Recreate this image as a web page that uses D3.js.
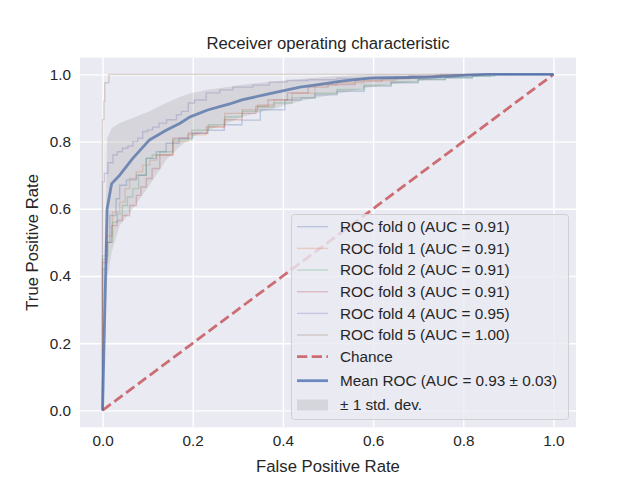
<!DOCTYPE html>
<html><head><meta charset="utf-8">
<script src="https://cdn.jsdelivr.net/npm/d3@7"></script>
<style>body{margin:0;background:#fff}svg{display:block}text{font-family:"Liberation Sans",Arial,sans-serif;fill:#262626}</style>
</head><body>
<svg id="c" width="640" height="480"></svg>
<script>
// ---- data ----
const foldLabels = ["ROC fold 0 (AUC = 0.91)","ROC fold 1 (AUC = 0.91)","ROC fold 2 (AUC = 0.91)","ROC fold 3 (AUC = 0.91)","ROC fold 4 (AUC = 0.95)","ROC fold 5 (AUC = 1.00)"];
const fold0Fpr = [0,0,0.008,0.016,0.03,0.038,0.053,0.075,0.097,0.119,0.141,0.17,0.2,0.233,0.27,0.309,0.35,0.404,0.44,0.471,0.52,0.58,0.64,0.7,0.76,0.82,0.86,1];
const fold0Tpr = [0,0.42,0.5,0.58,0.63,0.67,0.686,0.70,0.75,0.77,0.795,0.81,0.825,0.834,0.85,0.864,0.895,0.924,0.93,0.939,0.95,0.965,0.975,0.985,0.99,0.995,1,1];
const fold1Fpr = [0,0,0.01,0.022,0.038,0.05,0.06,0.075,0.089,0.105,0.12,0.156,0.19,0.23,0.271,0.31,0.344,0.38,0.42,0.471,0.52,0.58,0.65,0.72,0.78,0.84,1];
const fold1Tpr = [0,0.45,0.52,0.59,0.62,0.66,0.69,0.71,0.73,0.745,0.76,0.80,0.82,0.845,0.884,0.895,0.909,0.925,0.944,0.968,0.975,0.982,0.99,0.995,0.998,1,1];
const fold2Fpr = [0,0,0.012,0.022,0.033,0.044,0.055,0.067,0.08,0.097,0.11,0.127,0.156,0.198,0.235,0.271,0.31,0.344,0.38,0.42,0.471,0.52,0.58,0.64,0.7,0.76,0.82,0.87,1];
const fold2Tpr = [0,0.46,0.5,0.56,0.585,0.61,0.635,0.66,0.7,0.75,0.76,0.77,0.805,0.834,0.85,0.873,0.89,0.903,0.915,0.93,0.944,0.955,0.968,0.978,0.985,0.99,0.995,1,1];
const fold3Fpr = [0,0,0.01,0.02,0.032,0.044,0.06,0.075,0.085,0.097,0.11,0.127,0.156,0.19,0.233,0.27,0.309,0.34,0.367,0.41,0.456,0.5,0.56,0.62,0.68,0.74,0.8,1];
const fold3Tpr = [0,0.44,0.5,0.55,0.565,0.58,0.61,0.64,0.665,0.69,0.72,0.76,0.81,0.825,0.843,0.865,0.884,0.905,0.924,0.945,0.962,0.97,0.98,0.988,0.994,0.998,1,1];
const fold4Fpr = [0,0,0.004,0.012,0.023,0.033,0.044,0.056,0.067,0.078,0.089,0.1,0.111,0.125,0.142,0.164,0.175,0.19,0.204,0.23,0.26,0.289,0.333,0.37,0.409,0.456,0.52,0.6,0.68,0.75,1];
const fold4Tpr = [0,0.68,0.706,0.737,0.76,0.77,0.78,0.786,0.80,0.81,0.83,0.835,0.843,0.855,0.865,0.88,0.89,0.915,0.924,0.945,0.954,0.962,0.968,0.977,0.982,0.984,0.988,0.992,0.996,1,1];
const fold5Fpr = [0,0,0.003,0.005,0.014,1];
const fold5Tpr = [0,0.865,0.92,0.975,1,1];
const foldFprs = [fold0Fpr,fold1Fpr,fold2Fpr,fold3Fpr,fold4Fpr,fold5Fpr];
const foldTprs = [fold0Tpr,fold1Tpr,fold2Tpr,fold3Tpr,fold4Tpr,fold5Tpr];

const meanFpr  = [0,0.0101,0.0202,0.038,0.067,0.104,0.141,0.171,0.193,0.233,0.282,0.309,0.371,0.438,0.471,0.53,0.593,0.65,0.727,0.8,0.85,0.9,1];
const meanTpr  = [0,0.60,0.675,0.70,0.75,0.805,0.834,0.854,0.873,0.894,0.912,0.924,0.943,0.962,0.968,0.98,0.989,0.99,0.992,0.997,1,1,1];
const upperTpr = [0,0.81,0.84,0.855,0.87,0.89,0.915,0.933,0.943,0.954,0.963,0.969,0.978,0.986,0.99,0.995,1,1,1,1,1,1,1];
const lowerTpr = [0,0.39,0.47,0.55,0.60,0.67,0.745,0.785,0.81,0.834,0.858,0.873,0.895,0.92,0.93,0.945,0.962,0.972,0.985,0.993,0.998,1,1];

const chanceX = [0,1];
const chanceY = [0,1];
const xTicks = [0,0.2,0.4,0.6,0.8,1.0];
const yTicks = [0,0.2,0.4,0.6,0.8,1.0];
const legendLabels = [...foldLabels, "Chance", "Mean ROC (AUC = 0.93 \u00b1 0.03)", "\u00b1 1 std. dev."];

// ---- layout ----
const colors = ["#4C72B0","#DD8452","#55A868","#C44E52","#8172B3","#937860"];
const L = 80, R = 576, T = 57.6, B = 427.2;
const svg = d3.select("#c");
const x = d3.scaleLinear().domain([-0.05,1.05]).range([L,R]);
const y = d3.scaleLinear().domain([-0.05,1.05]).range([B,T]);

svg.append("rect").attr("x",L).attr("y",T).attr("width",R-L).attr("height",B-T).attr("fill","#EAEAF2");
svg.append("clipPath").attr("id","clip").append("rect").attr("x",L).attr("y",T).attr("width",R-L).attr("height",B-T);

// grid
const xAxis = d3.axisBottom(x).tickValues(xTicks).tickFormat(d3.format(".1f")).tickSize(-(B-T)).tickPadding(8);
const yAxis = d3.axisLeft(y).tickValues(yTicks).tickFormat(d3.format(".1f")).tickSize(-(R-L)).tickPadding(8);
const gx = svg.append("g").attr("transform",`translate(0,${B})`).call(xAxis);
const gy = svg.append("g").attr("transform",`translate(${L},0)`).call(yAxis);
[gx,gy].forEach(g=>{
  g.select(".domain").remove();
  g.selectAll(".tick line").attr("stroke","#fff").attr("stroke-width",1.4);
  g.selectAll(".tick text").attr("font-size","15.3px").attr("fill","#262626").style("font-family","'Liberation Sans',Arial,sans-serif");
});
gx.selectAll(".tick text").attr("dy","0.71em");
gy.selectAll(".tick text").attr("dx","-1");

const plot = svg.append("g").attr("clip-path","url(#clip)");
const stepLine = d3.line().x(d=>x(d[0])).y(d=>y(d[1])).curve(d3.curveStepAfter);
foldFprs.forEach((f,i)=>{
  const pts = f.map((v,j)=>[v,foldTprs[i][j]]);
  plot.append("path").attr("d",stepLine(pts)).attr("fill","none")
    .attr("stroke",colors[i]).attr("stroke-opacity",0.3).attr("stroke-width",1.4);
});
const lin = d3.line().x(d=>x(d[0])).y(d=>y(d[1]));
plot.append("path").attr("d",lin(chanceX.map((v,i)=>[v,chanceY[i]]))).attr("fill","none")
  .attr("stroke","#C44E52").attr("stroke-opacity",0.8).attr("stroke-width",2.8).attr("stroke-dasharray","10.3,4.4");
plot.append("path").attr("d",lin(meanFpr.map((v,i)=>[v,meanTpr[i]]))).attr("fill","none")
  .attr("stroke","#4C72B0").attr("stroke-opacity",0.8).attr("stroke-width",2.8).attr("stroke-linejoin","round");
const area = d3.area().x(d=>x(d[0])).y0(d=>y(d[1])).y1(d=>y(d[2]));
plot.append("path").attr("d",area(meanFpr.map((v,i)=>[v,lowerTpr[i],upperTpr[i]])))
  .attr("fill","#808080").attr("fill-opacity",0.2);

// title / labels
svg.append("text").attr("x",(L+R)/2).attr("y",49).attr("text-anchor","middle").attr("font-size","16.7px").text("Receiver operating characteristic");
svg.append("text").attr("x",(L+R)/2).attr("y",472).attr("text-anchor","middle").attr("font-size","16.7px").text("False Positive Rate");
svg.append("text").attr("transform",`translate(38,${(T+B)/2}) rotate(-90)`).attr("text-anchor","middle").attr("font-size","16.7px").text("True Positive Rate");

// legend
const lg = svg.append("g");
lg.append("rect").attr("x",291.5).attr("y",214.5).attr("width",277).attr("height",205).attr("rx",3)
  .attr("fill","#EAEAF2").attr("fill-opacity",0.8).attr("stroke","#d0d0d0").attr("stroke-width",1);
const rowY = legendLabels.map((d,i)=> i<7 ? 226.7+21.67*i : (i===7 ? 380.7 : 405));
legendLabels.forEach((lab,i)=>{
  const yy = rowY[i];
  if(i<6){
    lg.append("line").attr("x1",297).attr("x2",328).attr("y1",yy).attr("y2",yy)
      .attr("stroke",colors[i]).attr("stroke-opacity",0.3).attr("stroke-width",1.4);
  } else if(i===6){
    lg.append("line").attr("x1",297).attr("x2",328).attr("y1",yy).attr("y2",yy)
      .attr("stroke","#C44E52").attr("stroke-opacity",0.8).attr("stroke-width",2.8).attr("stroke-dasharray","10.3,4.4");
  } else if(i===7){
    lg.append("line").attr("x1",297).attr("x2",328).attr("y1",yy).attr("y2",yy)
      .attr("stroke","#4C72B0").attr("stroke-opacity",0.8).attr("stroke-width",2.8);
  } else {
    lg.append("rect").attr("x",297).attr("y",yy-5.5).attr("width",31).attr("height",11)
      .attr("fill","#808080").attr("fill-opacity",0.2);
  }
  lg.append("text").attr("x",340).attr("y",yy).attr("dy","0.35em").attr("font-size","15.3px").text(lab);
});
</script>
</body></html>
